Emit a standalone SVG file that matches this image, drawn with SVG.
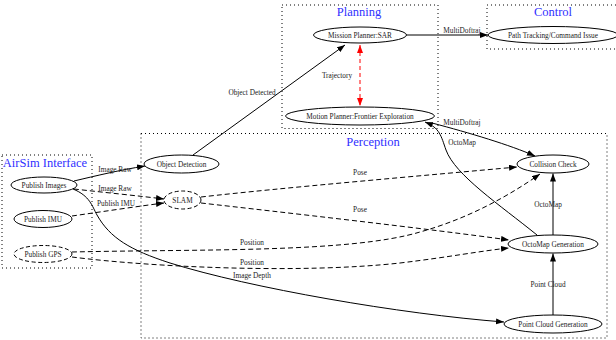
<svg xmlns="http://www.w3.org/2000/svg" width="616" height="340" viewBox="0 0 616 340">
<style>
.cl{fill:none;stroke:#000;stroke-width:1;stroke-dasharray:1,3}
.ct{font-family:"Liberation Serif",serif;font-size:12.5px;fill:#2f2fff;text-anchor:middle}
.n{fill:#fff;stroke:#000;stroke-width:1}
.nd{fill:#fff;stroke:#000;stroke-width:1;stroke-dasharray:4,2.5}
.t{font-family:"Liberation Serif",serif;font-size:7.3px;fill:#222;text-anchor:middle}
.e{fill:none;stroke:#000;stroke-width:1}
.ed{fill:none;stroke:#000;stroke-width:1;stroke-dasharray:5,3}
.er{fill:none;stroke:#f00;stroke-width:1;stroke-dasharray:4,3}
</style>
<defs>
<marker id="a" markerUnits="userSpaceOnUse" markerWidth="9" markerHeight="7" refX="8" refY="3" orient="auto"><path d="M0,0 L8,3 L0,6 z" fill="#000"/></marker>
<marker id="ar" markerUnits="userSpaceOnUse" markerWidth="9" markerHeight="7" refX="8" refY="3" orient="auto-start-reverse"><path d="M0,0 L8,3 L0,6 z" fill="#f00"/></marker>
</defs>
<g id="clusters">
<rect class="cl" x="2" y="155" width="90" height="113"/>
<text class="ct" x="45" y="167">AirSim Interface</text>
<rect class="cl" x="282" y="5" width="156" height="123.5"/>
<text class="ct" x="359" y="16">Planning</text>
<rect class="cl" x="487" y="5" width="140" height="44"/>
<text class="ct" x="553" y="16">Control</text>
<rect class="cl" x="141" y="133.5" width="466" height="204.5"/>
<text class="ct" x="373" y="145.5">Perception</text>
</g>
<g id="edges">
<path class="e" d="M406,35 L488,35" marker-end="url(#a)"/>
<text class="t" x="462" y="33">MultiDoftraj</text>
<path class="er" d="M360,45 L360,106" marker-start="url(#ar)" marker-end="url(#ar)"/>
<text class="t" x="337" y="78">Trajectory</text>
<path class="e" d="M193,155 L345,45" marker-end="url(#a)"/>
<text class="t" x="252" y="94.5">Object Detected</text>
<path class="e" d="M432,123 C470,133 510,145 535,156" marker-end="url(#a)"/>
<text class="t" x="462" y="124.5">MultiDoftraj</text>
<path class="e" d="M537,235 C500,205 455,175 446,150 C441,136 440,128 425,122" marker-end="url(#a)"/>
<text class="t" x="462" y="144.5">OctoMap</text>
<path class="e" d="M553,235 L553,173.5" marker-end="url(#a)"/>
<text class="t" x="548" y="206.5">OctoMap</text>
<path class="e" d="M553,315 L553,253.5" marker-end="url(#a)"/>
<text class="t" x="548" y="286.5">Point Cloud</text>
<path class="e" d="M74,181 C95,176 120,170 145,166" marker-end="url(#a)"/>
<text class="t" x="115" y="171.5">Image Raw</text>
<path class="ed" d="M74,189 C100,192 140,196 164,199" marker-end="url(#a)"/>
<text class="t" x="115" y="190.5">Image Raw</text>
<path class="ed" d="M72,216 C100,212 140,206 164,203" marker-end="url(#a)"/>
<text class="t" x="116" y="205.5">Publish IMU</text>
<path class="e" d="M73,189 C90,196 92,206 97,215 C110,238 130,250 170,263 C250,288 400,314 504,322" marker-end="url(#a)"/>
<text class="t" x="252" y="277.5">Image Depth</text>
<path class="ed" d="M201,197 C280,188 430,175 517,167" marker-end="url(#a)"/>
<text class="t" x="360" y="174.5">Pose</text>
<path class="ed" d="M201,203 C280,212 430,229 509,240" marker-end="url(#a)"/>
<text class="t" x="360" y="211.5">Pose</text>
<path class="ed" d="M72,252 C200,249 350,253 420,232 C470,218 510,195 540,174" marker-end="url(#a)"/>
<text class="t" x="252" y="245">Position</text>
<path class="ed" d="M72,257 C150,267 300,274 400,263 C450,257 480,251 509,248" marker-end="url(#a)"/>
<text class="t" x="252" y="265">Position</text>
</g>
<g id="mission_planner"><ellipse class="n" cx="360" cy="35" rx="46.5" ry="8"/><text class="t" x="360" y="37.5">Mission Planner:SAR</text></g>
<g id="motion_planner"><ellipse class="n" cx="360" cy="116" rx="74.5" ry="9"/><text class="t" x="360" y="118.5">Motion Planner:Frontier Exploration</text></g>
<g id="path_tracking"><ellipse class="n" cx="553" cy="35" rx="65" ry="8.5"/><text class="t" x="553" y="37.5">Path Tracking/Command Issue</text></g>
<g id="publish_images"><ellipse class="n" cx="44" cy="185" rx="33" ry="8"/><text class="t" x="44" y="187.5">Publish Images</text></g>
<g id="publish_imu"><ellipse class="n" cx="43" cy="219" rx="29" ry="8.5"/><text class="t" x="43" y="221.5">Publish IMU</text></g>
<g id="publish_gps"><ellipse class="nd" cx="43" cy="254" rx="29" ry="8.5"/><text class="t" x="43" y="256.5">Publish GPS</text></g>
<g id="object_detection"><ellipse class="n" cx="181.5" cy="164" rx="37.5" ry="9"/><text class="t" x="181.5" y="166.5">Object Detection</text></g>
<g id="slam"><ellipse class="nd" cx="182.5" cy="200" rx="18.5" ry="9"/><text class="t" x="182.5" y="202.5">SLAM</text></g>
<g id="collision_check"><ellipse class="n" cx="553" cy="164" rx="36" ry="9"/><text class="t" x="553" y="166.5">Collision Check</text></g>
<g id="octomap_generation"><ellipse class="n" cx="553" cy="244" rx="45" ry="9"/><text class="t" x="553" y="246.5">OctoMap Generation</text></g>
<g id="point_cloud_generation"><ellipse class="n" cx="553" cy="324" rx="49" ry="9"/><text class="t" x="553" y="326.5">Point Cloud Generation</text></g>
</svg>
